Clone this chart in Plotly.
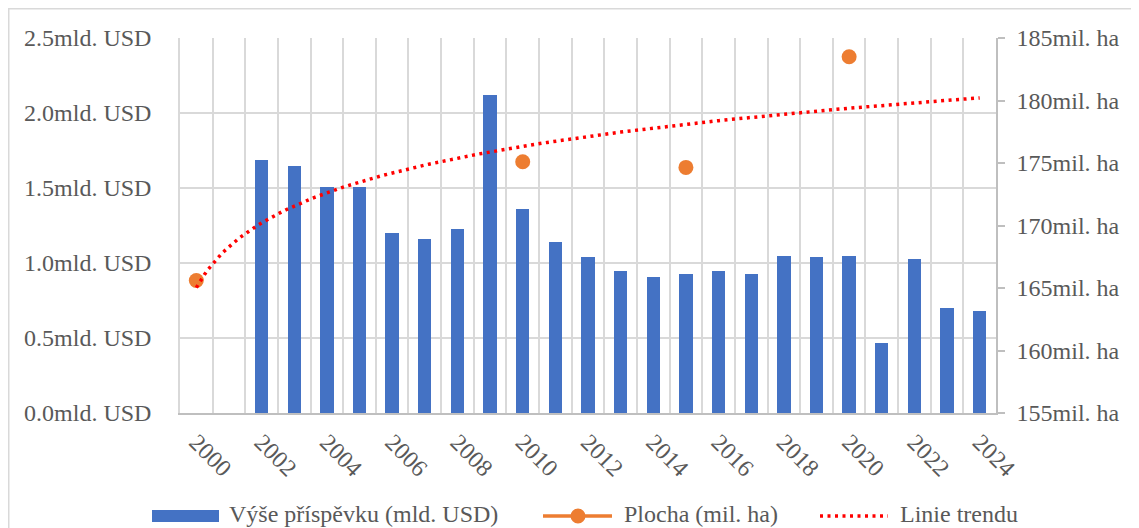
import numpy as np
import plotly.graph_objects as go

years = list(range(2000, 2025))
prispevek = [None, None, 1.69, 1.65, 1.51, 1.51, 1.20, 1.16, 1.23, 2.12, 1.36, 1.14,
             1.04, 0.95, 0.91, 0.93, 0.95, 0.93, 1.05, 1.04, 1.05, 0.47, 1.03, 0.70, 0.68]
plocha_years = [2000, 2010, 2015, 2020]
plocha_vals = [165.6, 175.1, 174.65, 183.5]
tick_years = list(range(2000, 2025, 2))
left_ticks = [0.0, 0.5, 1.0, 1.5, 2.0, 2.5]
right_ticks = [155, 160, 165, 170, 175, 180, 185]
legend_names = ["Výše příspěvku (mld. USD)", "Plocha (mil. ha)", "Linie trendu"]

# Plocha series on the full category range (gaps where no data)
plocha_full = [plocha_vals[plocha_years.index(y)] if y in plocha_years else None for y in years]

# Logarithmic trendline (Excel style, x = category index 1..N) fitted to the Plocha data
idx = np.array([y - years[0] + 1 for y in plocha_years], dtype=float)
b, a = np.polyfit(np.log(idx), np.array(plocha_vals), 1)
t_idx = np.linspace(1, len(years), 193)
trend_x = years[0] - 1 + t_idx
trend_y = a + b * np.log(t_idx)

FONT = "Liberation Serif, 'Times New Roman', 'DejaVu Serif', serif"
FS = 24
GRAY = "#595959"
GRID = "#D9D9D9"
BLUE = "#4472C4"
ORANGE = "#ED7D31"
RED = "#FF0000"
TREND_DASH = "3px,4.5px"

fig = go.Figure()
fig.add_trace(go.Bar(x=years, y=prispevek, name=legend_names[0],
                     marker=dict(color=BLUE, line=dict(width=0)), width=0.41,
                     yaxis="y", showlegend=False))
fig.add_trace(go.Scatter(x=years, y=plocha_full, name=legend_names[1],
                         mode="lines+markers", connectgaps=False,
                         line=dict(color=ORANGE, width=3),
                         marker=dict(color=ORANGE, size=15), yaxis="y2", showlegend=False))
fig.add_trace(go.Scatter(x=trend_x, y=trend_y, name=legend_names[2], mode="lines",
                         line=dict(color=RED, width=3.5, dash=TREND_DASH),
                         yaxis="y2", showlegend=False))

# Page body has an 8px margin: figure is sized to fit the 1139x528 window
OFF = 8
SW, SH = 1139, 528            # screen size
L, T = 180, 38                # plot area top-left on screen
pw, ph = 816, 375             # plot area size
W, H = SW - OFF, SH - OFF
ml, mt = L - OFF, T - OFF
mr, mb = W - ml - pw, H - mt - ph


def px(xs):
    return (xs - L) / pw


def py(ys):
    return (T + ph - ys) / ph


shapes = [dict(type="rect", xref="paper", yref="paper",
               x0=px(8.75), x1=px(SW + 10), y0=py(SH + 10), y1=py(8.75),
               line=dict(color=GRID, width=1.5), fillcolor="rgba(0,0,0,0)", layer="below")]
annotations = []

# Legend row (drawn manually to match the wide symbols of the original)
LY = 516
shapes.append(dict(type="rect", xref="paper", yref="paper",
                   x0=px(152), x1=px(219), y0=py(522), y1=py(510),
                   line=dict(width=0), fillcolor=BLUE))
shapes.append(dict(type="line", xref="paper", yref="paper",
                   x0=px(543), x1=px(612), y0=py(LY), y1=py(LY),
                   line=dict(color=ORANGE, width=3.5)))
shapes.append(dict(type="circle", xref="paper", yref="paper",
                   x0=px(570.5), x1=px(585.5), y0=py(523.5), y1=py(508.5),
                   line=dict(width=0), fillcolor=ORANGE))
shapes.append(dict(type="line", xref="paper", yref="paper",
                   x0=px(820), x1=px(888), y0=py(LY), y1=py(LY),
                   line=dict(color=RED, width=3.5, dash=TREND_DASH)))
for name, xs in zip(legend_names, [227, 622, 898]):
    annotations.append(dict(text=name, xref="paper", yref="paper", x=px(xs), y=py(LY - 2),
                            xanchor="left", yanchor="middle", showarrow=False,
                            font=dict(family=FONT, size=FS, color=GRAY)))

fig.update_layout(
    width=W, height=H,
    margin=dict(l=ml, r=mr, t=mt, b=mb, pad=0, autoexpand=False),
    paper_bgcolor="white", plot_bgcolor="white",
    font=dict(family=FONT, size=FS, color=GRAY),
    showlegend=False,
    xaxis=dict(range=[1999.5, 2024.5], tickmode="array", tickvals=tick_years,
               ticktext=[str(y) for y in tick_years], tickangle=45, automargin=False,
               showgrid=False, showline=True, linecolor="#BFBFBF", linewidth=1.5,
               ticks="", zeroline=False, ticklabelstandoff=4,
               tickfont=dict(family=FONT, size=FS, color=GRAY),
               minor=dict(tickmode="linear", tick0=1999.5, dtick=1, showgrid=True,
                          gridcolor=GRID, gridwidth=1.5, ticks="")),
    yaxis=dict(range=[0, 2.5], tickmode="array", tickvals=left_ticks, automargin=False,
               ticktext=[f"{v:.1f}mld. USD" for v in left_ticks],
               showgrid=True, gridcolor=GRID, gridwidth=1.5, zeroline=False,
               showline=True, linecolor=GRID, linewidth=1.5, ticks="",
               ticklabelstandoff=22, tickfont=dict(family=FONT, size=FS, color=GRAY)),
    yaxis2=dict(range=[155, 185], overlaying="y", side="right", tickmode="array",
                automargin=False,
                tickvals=right_ticks, ticktext=[f"{v}mil. ha" for v in right_ticks],
                showgrid=False, zeroline=False, showline=True, linecolor="#BFBFBF",
                linewidth=1.5, ticks="outside", ticklen=7, tickcolor="#BFBFBF",
                tickwidth=1.5, ticklabelstandoff=7,
                tickfont=dict(family=FONT, size=FS, color=GRAY)),
    bargap=0,
    shapes=shapes,
    annotations=annotations,
)

fig.write_html("out.html")
